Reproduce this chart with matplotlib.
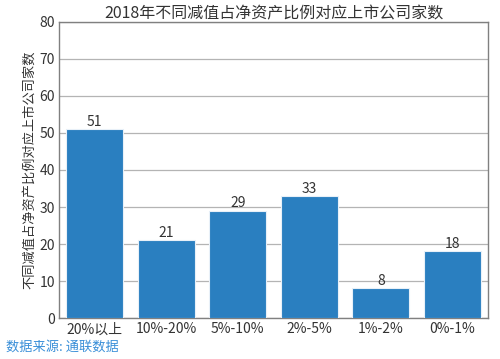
import matplotlib
matplotlib.use("Agg")
import matplotlib.pyplot as plt

plt.rcParams["font.family"] = ["Noto Sans CJK SC", "DejaVu Sans"]

CATEGORIES = ["20%以上", "10%-20%", "5%-10%", "2%-5%", "1%-2%", "0%-1%"]
COUNTS = [51, 21, 29, 33, 8, 18]
YTICKS = [0, 10, 20, 30, 40, 50, 60, 70, 80]

BAR = "#2a7fc0"
GRID = "#b4b4b4"
SPINE = "#808080"
TEXT = "#333333"

fig = plt.figure(figsize=(5.0, 3.59), dpi=100)
ax = fig.add_axes([0.118, 0.114, 0.858, 0.825])

x = range(len(CATEGORIES))
ax.bar(x, COUNTS, width=0.8, color=BAR, edgecolor="#e8f0f8", linewidth=0.8, zorder=3)
for xi, v in zip(x, COUNTS):
    ax.text(xi, v + 0.1, str(v), ha="center", va="bottom", fontsize=10, color=TEXT, zorder=4)

ax.set_xlim(-0.5, len(CATEGORIES) - 0.5)
ax.set_ylim(0, 80)
ax.set_yticks(YTICKS)
ax.set_xticks(list(x))
ax.set_xticklabels(CATEGORIES)
ax.yaxis.grid(True, color=GRID, lw=0.9, zorder=0)
ax.tick_params(axis="both", labelsize=10, colors=TEXT, length=0, pad=3)
for s in ax.spines.values():
    s.set_color(SPINE)
    s.set_linewidth(1.0)

ax.set_title("2018年不同减值占净资产比例对应上市公司家数", fontsize=11.5, color=TEXT, pad=2)
ax.set_ylabel("不同减值占净资产比例对应上市公司家数", fontsize=9.5, color=TEXT, labelpad=2)

fig.text(0.012, 0.015, "数据来源: 通联数据", fontsize=9.5, color="#3a8fd8", ha="left", va="bottom")

fig.savefig("out.png", dpi=100)
